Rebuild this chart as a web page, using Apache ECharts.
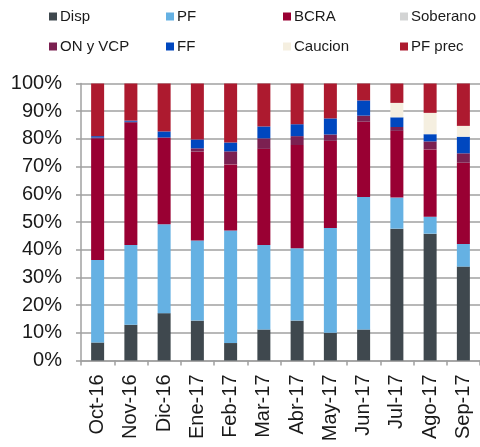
<!DOCTYPE html>
<html>
<head>
<meta charset="utf-8">
<script src="https://cdn.jsdelivr.net/npm/echarts@6/dist/echarts.min.js"></script>
<style>html,body{margin:0;padding:0;background:#fff}#c{width:480px;height:447px}</style>
</head>
<body>
<div id="c"></div>
<script>
const categories = ['Oct-16','Nov-16','Dic-16','Ene-17','Feb-17','Mar-17','Abr-17','May-17','Jun-17','Jul-17','Ago-17','Sep-17'];
const yTicks = [0,10,20,30,40,50,60,70,80,90,100];
const seriesNames = ['Disp','PF','BCRA','Soberano','ON y VCP','FF','Caucion','PF prec'];
const disp     = [6.5, 12.9, 17.1, 14.4, 6.3, 11.2, 14.4, 10.0, 11.2, 47.6, 45.8, 33.9];
const pf       = [29.8, 28.8, 32.1, 28.9, 40.6, 30.5, 26.1, 37.8, 47.8, 11.2, 6.1, 8.2];
const bcra     = [43.7, 44.1, 31.3, 32.1, 23.9, 34.7, 37.3, 31.5, 27.2, 24.1, 24.3, 29.3];
const soberano = [0, 0, 0, 0, 0, 0, 0, 0, 0, 0, 0, 0];
const onVcp    = [0.5, 0.4, 0, 1.2, 4.7, 3.8, 3.2, 2.3, 2.2, 1.4, 2.9, 3.4];
const ff       = [0.5, 0.4, 2.2, 3.2, 3.2, 4.3, 4.3, 5.8, 5.5, 3.5, 2.6, 6.0];
const caucion  = [0, 0, 0, 0, 0, 0, 0, 0, 0, 5.2, 7.7, 3.9];
const pfPrec   = [19.0, 13.4, 17.3, 20.2, 21.3, 15.5, 14.7, 12.6, 6.1, 7.0, 10.6, 15.3];

const values = [disp, pf, bcra, soberano, onVcp, ff, caucion, pfPrec];
const colors = ['#3f484e','#65b1e3','#990033','#d3d4d4','#7b2051','#0047bf','#f5efe0','#ad1a2f'];
const legendPos = [[49,9],[166,9],[283,9],[400,9],[49,39],[166,39],[283,39],[400,39]];

const chart = echarts.init(document.getElementById('c'), null, {renderer:'canvas'});
chart.setOption({
  animation:false,
  textStyle:{fontFamily:'Liberation Sans, Arial, sans-serif'},
  legend: seriesNames.map((n,i)=>({
    data:[n], left:legendPos[i][0], top:legendPos[i][1], padding:0,
    itemWidth:8, itemHeight:8, icon:'rect', selectedMode:false,
    textStyle:{fontSize:15, color:'#1a1a1a', fontFamily:'Liberation Sans, Arial, sans-serif', padding:[0,0,0,-2]}
  })),
  grid:{left:81, right:-6, top:83.5, bottom:86.5, containLabel:false},
  xAxis:{
    type:'category', data:categories,
    axisLine:{lineStyle:{color:'#a0a0a0', width:1.5}},
    axisTick:{show:true, length:5, lineStyle:{color:'#a0a0a0', width:1.5}},
    axisLabel:{rotate:90, fontSize:20, color:'#1a1a1a', margin:14, fontFamily:'Liberation Sans, Arial, sans-serif'}
  },
  yAxis:{
    type:'value', min:0, max:100, interval:10,
    axisLine:{show:true, lineStyle:{color:'#a0a0a0', width:1.5}},
    axisTick:{show:true, length:5, lineStyle:{color:'#a0a0a0', width:1.5}},
    splitLine:{show:true, lineStyle:{color:'#a0a0a0', width:1.5}},
    axisLabel:{fontSize:20, color:'#1a1a1a', margin:19, fontFamily:'Liberation Sans, Arial, sans-serif',
      formatter:(v)=> yTicks.includes(v) ? v + '%' : ''}
  },
  series: seriesNames.map((n,i)=>({
    name:n, type:'bar', stack:'total', data:values[i], barWidth:13,
    itemStyle:{color:colors[i]}
  }))
});
</script>
</body>
</html>
